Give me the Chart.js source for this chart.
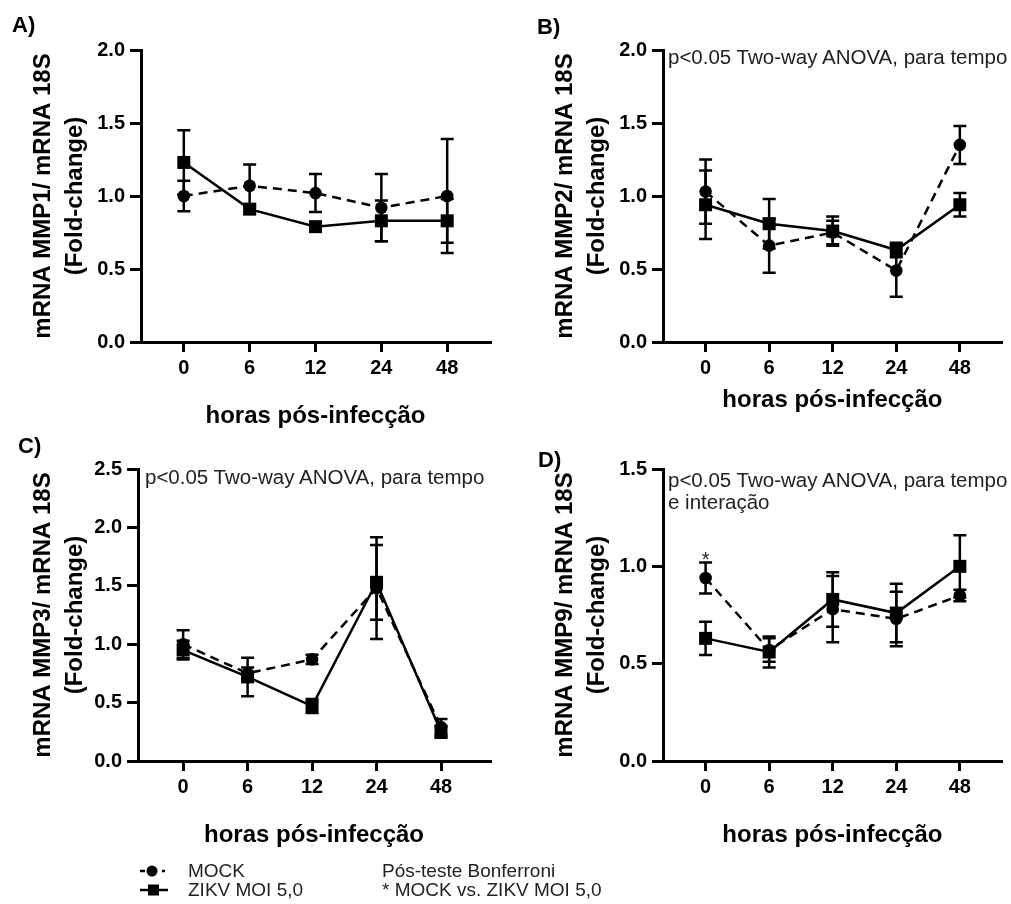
<!DOCTYPE html>
<html>
<head>
<meta charset="utf-8">
<script src="https://cdn.jsdelivr.net/npm/chart.js@4.4.1/dist/chart.umd.min.js"></script>
<style>
  body { margin: 0; background: #fff; }
  #page { position: relative; width: 1011px; height: 904px; overflow: hidden; font-family: 'Liberation Sans', Arial, sans-serif; }
  canvas { position: absolute; }
  .lbl { position: absolute; font-size: 22px; font-weight: bold; line-height: 26px; color: #000; }
  .note { position: absolute; font-size: 20.5px; line-height: 22px; color: #222; white-space: nowrap; }
  .leg { position: absolute; font-size: 19px; line-height: 19px; color: #222; white-space: nowrap; }
  .leg svg { position: absolute; left: 0; }
</style>
</head>
<body>
<div id="page">
  <canvas id="chartA" width="505" height="440" style="left:0;top:0"></canvas>
  <canvas id="chartB" width="489" height="440" style="left:522px;top:0"></canvas>
  <canvas id="chartC" width="505" height="440" style="left:0;top:430px"></canvas>
  <canvas id="chartD" width="489" height="440" style="left:522px;top:430px"></canvas>

  <div class="lbl" style="left:12px;top:12px">A)</div>
  <div class="lbl" style="left:537px;top:14px">B)</div>
  <div class="lbl" style="left:18px;top:433px">C)</div>
  <div class="lbl" style="left:538px;top:447px">D)</div>

  <div class="note" style="left:668px;top:46px">p&lt;0.05 Two-way ANOVA, para tempo</div>
  <div class="note" style="left:145px;top:466px">p&lt;0.05 Two-way ANOVA, para tempo</div>
  <div class="note" style="left:668px;top:469px">p&lt;0.05 Two-way ANOVA, para tempo<br>e interação</div>

  <div class="leg" style="left:140px;top:861px;width:200px;height:40px">
    <svg width="30" height="38" viewBox="0 0 30 38">
      <line x1="0" y1="10" x2="5" y2="10" stroke="#000" stroke-width="2.5"/>
      <circle cx="12" cy="10" r="5.5" fill="#000"/>
      <line x1="22" y1="10" x2="25" y2="10" stroke="#000" stroke-width="2.5"/>
      <line x1="0" y1="29" x2="28" y2="29" stroke="#000" stroke-width="2.5"/>
      <rect x="8" y="23.5" width="11" height="11" fill="#000"/>
    </svg>
    <div style="position:absolute;left:48px;top:0">MOCK</div>
    <div style="position:absolute;left:48px;top:19px">ZIKV MOI 5,0</div>
  </div>
  <div class="leg" style="left:382px;top:861px">Pós-teste Bonferroni<br>* MOCK vs. ZIKV MOI 5,0</div>
</div>

<script>
// eixo x (horas) e faixas do eixo y
const hours = ['0', '6', '12', '24', '48'];
const yMaxA = 2.0, yMaxB = 2.0, yMaxC = 2.5, yMaxD = 1.5;

// A) MMP1
const mockA = [1.00, 1.07, 1.02, 0.92, 1.00];
const mockAErr = [0.105, 0.145, 0.13, 0.23, 0.39];
const zikvA = [1.23, 0.91, 0.79, 0.83, 0.83];
const zikvAErr = [0.22, 0.03, 0.02, 0.14, 0.15];

// B) MMP2
const mockB = [1.03, 0.66, 0.75, 0.49, 1.35];
const mockBErr = [0.22, 0.185, 0.08, 0.18, 0.13];
const zikvB = [0.94, 0.81, 0.76, 0.63, 0.94];
const zikvBErr = [0.235, 0.17, 0.10, 0.05, 0.08];

// C) MMP3
const mockC = [1.00, 0.75, 0.87, 1.48, 0.29];
const mockCErr = [0.12, 0.05, 0.04, 0.435, 0.07];
const zikvC = [0.95, 0.72, 0.47, 1.53, 0.25];
const zikvCErr = [0.08, 0.165, 0.06, 0.32, 0.05];

// D) MMP9
const mockD = [0.94, 0.57, 0.78, 0.73, 0.85];
const mockDErr = [0.08, 0.06, 0.17, 0.14, 0.03];
const zikvD = [0.63, 0.56, 0.83, 0.76, 1.00];
const zikvDErr = [0.085, 0.08, 0.14, 0.15, 0.16];
const starsD = ['*', '', '', '', ''];

Chart.defaults.font.family = "'Liberation Sans', Arial, sans-serif";
Chart.defaults.color = '#000';

// barras de erro (media +- EPM) e asterisco de significancia
const errorBars = {
  id: 'errorBars',
  beforeDatasetsDraw(chart) {
    const { ctx, scales: { x, y } } = chart;
    ctx.save();
    ctx.strokeStyle = '#000';
    ctx.lineWidth = 2.5;
    chart.data.datasets.forEach(ds => {
      ds.data.forEach((pt, i) => {
        const e = ds.errors[i];
        const px = x.getPixelForValue(pt.x);
        const top = y.getPixelForValue(pt.y + e);
        const bot = y.getPixelForValue(pt.y - e);
        ctx.beginPath();
        ctx.moveTo(px, top); ctx.lineTo(px, bot);
        ctx.moveTo(px - 6.5, top); ctx.lineTo(px + 6.5, top);
        ctx.moveTo(px - 6.5, bot); ctx.lineTo(px + 6.5, bot);
        ctx.stroke();
        const star = ds.stars && ds.stars[i];
        if (star) {
          ctx.fillStyle = '#222';
          ctx.font = "20px 'Liberation Sans', Arial, sans-serif";
          ctx.textAlign = 'center';
          ctx.textBaseline = 'alphabetic';
          ctx.fillText(star, px, top + 4);
        }
      });
    });
    ctx.restore();
  }
};

function buildPanel(id, p) {
  const toPts = arr => arr.map((v, i) => ({ x: i, y: v }));
  const tickGrid = len => ({ drawOnChartArea: false, drawTicks: true, tickLength: len, color: '#000', lineWidth: 3 });
  return new Chart(document.getElementById(id), {
    type: 'line',
    data: {
      datasets: [
        {
          label: 'MOCK',
          data: toPts(p.mock),
          errors: p.mockErr,
          stars: p.stars,
          borderColor: '#000',
          backgroundColor: '#000',
          borderWidth: 2.5,
          borderDash: [9, 6],
          pointStyle: 'circle',
          pointRadius: 6.3,
          pointHoverRadius: 6.3,
          pointBorderWidth: 0,
          tension: 0,
          clip: false
        },
        {
          label: 'ZIKV MOI 5,0',
          data: toPts(p.zikv),
          errors: p.zikvErr,
          borderColor: '#000',
          backgroundColor: '#000',
          borderWidth: 2.5,
          pointStyle: 'rect',
          pointRadius: 9.2,
          pointHoverRadius: 9.2,
          pointBorderWidth: 0,
          tension: 0,
          clip: false
        }
      ]
    },
    options: {
      responsive: false,
      animation: false,
      devicePixelRatio: 1,
      events: [],
      layout: { padding: { top: p.top, right: p.right, left: 0, bottom: 0 } },
      plugins: { legend: { display: false }, tooltip: { enabled: false } },
      scales: {
        x: {
          type: 'linear',
          min: p.xMin,
          max: p.xMax,
          afterBuildTicks: s => {
            s.ticks = s.ticks.filter(t => Number.isInteger(t.value) && t.value >= 0 && t.value < hours.length);
          },
          afterFit: s => { s.height = p.xHeight; },
          ticks: {
            stepSize: 1,
            includeBounds: false,
            autoSkip: false,
            maxRotation: 0,
            padding: 4,
            color: '#000',
            font: { size: 20, weight: 'bold' },
            callback: v => hours[v]
          },
          grid: tickGrid(10),
          border: { display: true, color: '#000', width: 3 },
          title: {
            display: true,
            text: 'horas pós-infecção',
            color: '#000',
            font: { size: 24, weight: 'bold' },
            padding: { top: 0, bottom: p.xTitlePad }
          }
        },
        y: {
          min: 0,
          max: p.yMax,
          afterFit: s => { s.width = p.yWidth; },
          ticks: {
            stepSize: 0.5,
            padding: 5,
            color: '#000',
            font: { size: 20, weight: 'bold' },
            callback: v => v.toFixed(1)
          },
          grid: tickGrid(11),
          border: { display: true, color: '#000', width: 3 },
          title: {
            display: true,
            text: [p.yTitle, '(Fold-change)'],
            color: '#000',
            font: { size: 24, weight: 'bold', lineHeight: 1.34 },
            padding: { top: 27, bottom: 0 }
          }
        }
      }
    },
    plugins: [errorBars]
  });
}

buildPanel('chartA', {
  mock: mockA, mockErr: mockAErr, zikv: zikvA, zikvErr: zikvAErr,
  yTitle: 'mRNA MMP1/ mRNA 18S', yMax: yMaxA,
  xMin: -0.65, xMax: 4.65,
  top: 50, right: 15, yWidth: 141, xHeight: 98, xTitlePad: 9
});

buildPanel('chartB', {
  mock: mockB, mockErr: mockBErr, zikv: zikvB, zikvErr: zikvBErr,
  yTitle: 'mRNA MMP2/ mRNA 18S', yMax: yMaxB,
  xMin: -0.67, xMax: 4.66,
  top: 50, right: 0, yWidth: 141, xHeight: 98, xTitlePad: 25
});

buildPanel('chartC', {
  mock: mockC, mockErr: mockCErr, zikv: zikvC, zikvErr: zikvCErr,
  yTitle: 'mRNA MMP3/ mRNA 18S', yMax: yMaxC,
  xMin: -0.70, xMax: 4.76,
  top: 39, right: 15, yWidth: 138, xHeight: 109, xTitlePad: 20
});

buildPanel('chartD', {
  mock: mockD, mockErr: mockDErr, zikv: zikvD, zikvErr: zikvDErr, stars: starsD,
  yTitle: 'mRNA MMP9/ mRNA 18S', yMax: yMaxD,
  xMin: -0.67, xMax: 4.66,
  top: 39, right: 0, yWidth: 141, xHeight: 109, xTitlePad: 20
});
</script>
</body>
</html>
